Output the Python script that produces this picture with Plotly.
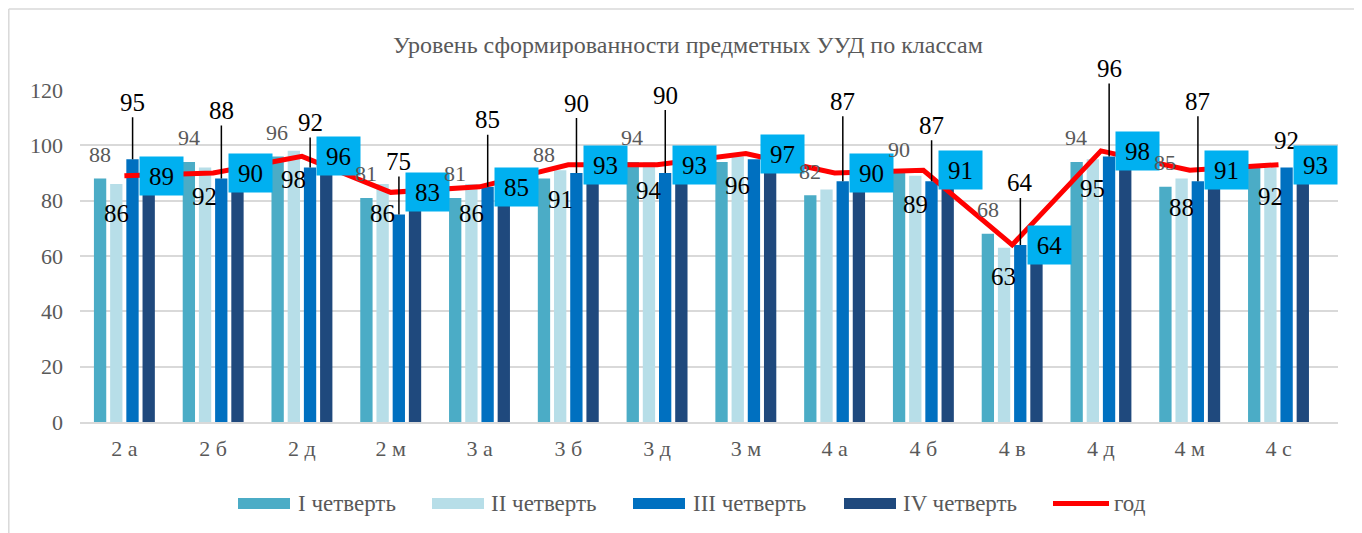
import plotly.graph_objects as go

categories = ["2 а", "2 б", "2 д", "2 м", "3 а", "3 б", "3 д", "3 м", "4 а", "4 б", "4 в", "4 д", "4 м", "4 с"]
q1 = [88, 94, 96, 81, 81, 88, 94, 94, 82, 90, 68, 94, 85, 92]
q2 = [86, 92, 98, 86, 86, 91, 94, 96, 84, 89, 63, 95, 88, 92]
q3 = [95, 88, 92, 75, 85, 90, 90, 95, 87, 87, 64, 96, 87, 92]
q4 = [87, 86, 96, 88, 86, 93, 93, 97, 90, 91, 62, 98, 91, 93]
year = [89, 90, 96, 83, 85, 93, 93, 97, 90, 91, 64, 98, 91, 93]
y_ticks = [0, 20, 40, 60, 80, 100, 120]

series_names = ["I четверть", "II четверть", "III четверть", "IV четверть"]
series_colors = ["#4BACC6", "#B7DEE8", "#0070C0", "#1F497D"]
year_name = "год"
year_color = "#FF0000"

# label visibility / placement (styling, not data)
q1_hidden = {7, 13}
q2_hidden = {8}
q3_hidden = {7}
q3_lift = [57, 68, 45, 53, 67, 70, 78, 0, 80, 56, 62, 88, 80, 27]

FONT = "Liberation Serif"
GREY = "#595959"

# page is offset by the 8px body margin; plot area spans page x 80..1338, y 90..422
W, H = 1354, 525
ML, MR, MT, MB = 72, 24, 82, 111
PW = W - ML - MR
PH = H - MT - MB


def px(page_x):
    return (page_x - 80) / PW


def py(page_y):
    return (422 - page_y) / PH


fig = go.Figure()
for name, vals, col in zip(series_names, [q1, q2, q3, q4], series_colors):
    fig.add_trace(go.Bar(x=categories, y=vals, name=name, marker_color=col,
                         marker_line_width=0))
fig.add_trace(go.Scatter(x=categories, y=year, name=year_name, mode="lines",
                         line=dict(color=year_color, width=5)))

slot = 16.4
ann = []
for i, c in enumerate(categories):
    if i not in q1_hidden:
        ann.append(dict(x=c, y=q1[i], text=str(q1[i]), showarrow=False, xshift=-1.5 * slot,
                        yshift=24, font=dict(family=FONT, size=22, color=GREY)))
    if i not in q2_hidden:
        ann.append(dict(x=c, y=q2[i], text=str(q2[i]), showarrow=False, xshift=-0.5 * slot,
                        yshift=-29, font=dict(family=FONT, size=25, color="#000000")))
    if i not in q3_hidden:
        lift = q3_lift[i]
        if lift >= 35:
            ann.append(dict(x=c, y=q3[i], text=str(q3[i]), showarrow=True, arrowhead=0,
                            arrowwidth=1.5, arrowcolor="#000000", ax=0, ay=-lift,
                            xshift=0.5 * slot, standoff=0,
                            font=dict(family=FONT, size=25, color="#000000")))
        else:
            ann.append(dict(x=c, y=q3[i], text=str(q3[i]), showarrow=False, xshift=0.5 * slot,
                            yshift=lift, font=dict(family=FONT, size=25, color="#000000")))
    ann.append(dict(x=c, y=year[i], text=str(year[i]), showarrow=False, xshift=37,
                    bgcolor="#00B0F0", borderpad=4, width=35, height=30,
                    font=dict(family=FONT, size=25, color="#000000")))

# manual legend (Excel-like wide swatches)
leg_swatch_x = [238, 432, 633, 844]
leg_text_x = [296, 489, 691, 901, 1112]
leg_line_x = (1053, 1109)
leg_y = 503.5
shapes = []
for sx, col in zip(leg_swatch_x, series_colors):
    shapes.append(dict(type="rect", xref="paper", yref="paper", x0=px(sx), x1=px(sx + 52),
                       y0=py(509), y1=py(498), fillcolor=col, line=dict(width=0)))
shapes.append(dict(type="line", xref="paper", yref="paper", x0=px(leg_line_x[0]),
                   x1=px(leg_line_x[1]), y0=py(leg_y), y1=py(leg_y),
                   line=dict(color=year_color, width=5)))
for tx, name in zip(leg_text_x, series_names + [year_name]):
    ann.append(dict(xref="paper", yref="paper", x=px(tx), y=py(leg_y), text=name,
                    showarrow=False, xanchor="left", yanchor="middle",
                    font=dict(family=FONT, size=23, color=GREY)))

# chart-area border (left and top edges visible)
shapes.append(dict(type="line", xref="paper", yref="paper", x0=px(8.8), x1=px(8.8),
                   y0=py(533), y1=py(9), line=dict(color="#D9D9D9", width=1.5)))
shapes.append(dict(type="line", xref="paper", yref="paper", x0=px(8.8), x1=px(1362),
                   y0=py(9), y1=py(9), line=dict(color="#D9D9D9", width=1.5)))

fig.update_layout(
    width=W, height=H,
    paper_bgcolor="white", plot_bgcolor="white",
    margin=dict(l=ML, r=MR, t=MT, b=MB, autoexpand=False),
    barmode="group", bargap=0.27, bargroupgap=0.24,
    showlegend=False,
    font=dict(family=FONT, size=22, color=GREY),
    title=dict(text="Уровень сформированности предметных УУД по классам",
               x=680 / W, xanchor="center", y=1 - 37 / H, yanchor="middle",
               font=dict(family=FONT, size=24, color=GREY)),
    xaxis=dict(showgrid=False, showline=True, linecolor="#D9D9D9", linewidth=2,
               ticks="", ticklabelstandoff=6,
               tickfont=dict(family=FONT, size=22, color=GREY)),
    yaxis=dict(range=[0, 120], tickvals=y_ticks, showgrid=True, gridcolor="#D9D9D9",
               gridwidth=1.5, zeroline=False, ticks="", showline=False,
               ticklabelstandoff=16,
               tickfont=dict(family=FONT, size=22, color=GREY)),
    annotations=ann,
    shapes=shapes,
)

fig.write_html("out.html")
